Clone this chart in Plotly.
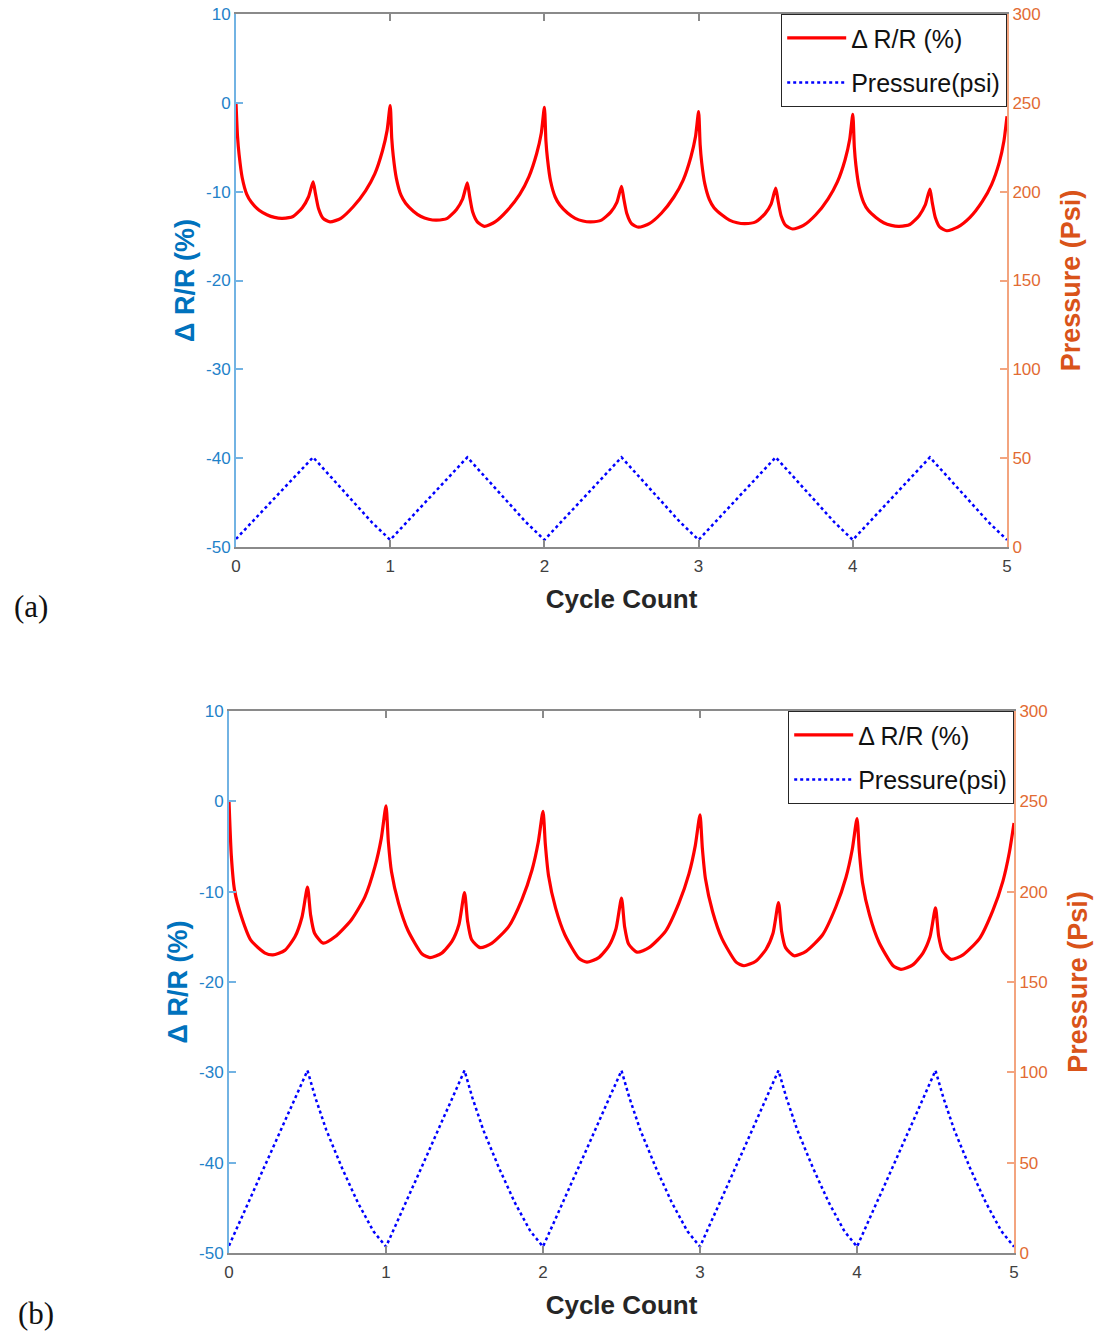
import plotly.graph_objects as go

# ---------------- Panel (a) ----------------
a_dr_x = [
    0.00, 0.01, 0.02, 0.04, 0.07, 0.10, 0.15, 0.20, 0.25, 0.30, 0.37, 0.43, 0.47, 0.50, 0.515, 0.535, 0.565, 0.61, 0.68, 0.76, 0.84, 0.90, 0.95, 0.98,
    1.00, 1.01, 1.02, 1.04, 1.07, 1.10, 1.15, 1.20, 1.25, 1.30, 1.37, 1.43, 1.47, 1.50, 1.515, 1.535, 1.565, 1.61, 1.68, 1.76, 1.84, 1.90, 1.95, 1.98,
    2.00, 2.01, 2.02, 2.04, 2.07, 2.10, 2.15, 2.20, 2.25, 2.30, 2.37, 2.43, 2.47, 2.50, 2.515, 2.535, 2.565, 2.61, 2.68, 2.76, 2.84, 2.90, 2.95, 2.98,
    3.00, 3.01, 3.02, 3.04, 3.07, 3.10, 3.15, 3.20, 3.25, 3.30, 3.37, 3.43, 3.47, 3.50, 3.515, 3.535, 3.565, 3.61, 3.68, 3.76, 3.84, 3.90, 3.95, 3.98,
    4.00, 4.01, 4.02, 4.04, 4.07, 4.10, 4.15, 4.20, 4.25, 4.30, 4.37, 4.43, 4.47, 4.50, 4.515, 4.535, 4.565, 4.61, 4.68, 4.76, 4.84, 4.90, 4.95, 4.98,
    5.00,
]
a_dr_y = [
    0.0, -3.8, -5.8, -8.4, -10.3, -11.2, -12.1, -12.6, -12.9, -13.0, -12.8, -11.8, -10.6, -8.9, -10.2, -11.9, -13.0, -13.4, -13.0, -11.7, -9.9, -8.0, -5.4, -3.1,
    -0.3, -4.0, -6.0, -8.5, -10.4, -11.3, -12.2, -12.8, -13.1, -13.2, -13.0, -12.0, -10.8, -9.0, -10.5, -12.3, -13.4, -13.9, -13.4, -12.1, -10.3, -8.3, -5.7, -3.4,
    -0.5, -4.3, -6.3, -8.8, -10.6, -11.5, -12.4, -13.0, -13.3, -13.4, -13.2, -12.3, -11.2, -9.4, -10.8, -12.5, -13.6, -14.0, -13.6, -12.4, -10.6, -8.7, -6.1, -3.8,
    -1.0, -4.7, -6.7, -9.1, -10.9, -11.8, -12.6, -13.2, -13.5, -13.6, -13.4, -12.5, -11.4, -9.6, -11.0, -12.7, -13.8, -14.2, -13.8, -12.6, -10.8, -8.9, -6.4, -4.1,
    -1.3, -5.0, -7.0, -9.4, -11.2, -12.1, -12.9, -13.5, -13.8, -13.9, -13.7, -12.7, -11.5, -9.7, -11.2, -12.9, -14.0, -14.4, -14.0, -12.9, -11.1, -9.2, -6.7, -4.3,
    -1.5,
]
a_p_x = [
    0.00, 0.25, 0.50, 0.62, 0.75, 0.88,
    1.00, 1.25, 1.50, 1.62, 1.75, 1.88,
    2.00, 2.25, 2.50, 2.62, 2.75, 2.88,
    3.00, 3.25, 3.50, 3.62, 3.75, 3.88,
    4.00, 4.25, 4.50, 4.62, 4.75, 4.88,
    5.00,
]
a_p_y = [
    4.5, 27.5, 50.5, 39.0, 26.5, 14.0,
    4.0, 27.5, 50.5, 39.0, 26.5, 14.0,
    4.0, 27.5, 50.5, 39.0, 26.5, 14.0,
    4.0, 27.5, 50.5, 39.0, 26.5, 14.0,
    4.0, 27.5, 50.5, 39.0, 26.5, 14.0,
    4.0,
]

# ---------------- Panel (b) ----------------
b_dr_x = [
    0.00, 0.015, 0.035, 0.08, 0.14, 0.23, 0.28, 0.355, 0.42, 0.465, 0.50, 0.52, 0.545, 0.60, 0.675, 0.78, 0.865, 0.93, 0.97,
    1.00, 1.015, 1.035, 1.08, 1.14, 1.23, 1.28, 1.355, 1.42, 1.465, 1.50, 1.52, 1.545, 1.60, 1.675, 1.78, 1.865, 1.93, 1.97,
    2.00, 2.015, 2.035, 2.08, 2.14, 2.23, 2.28, 2.355, 2.42, 2.465, 2.50, 2.52, 2.545, 2.60, 2.675, 2.78, 2.865, 2.93, 2.97,
    3.00, 3.015, 3.035, 3.08, 3.14, 3.23, 3.28, 3.355, 3.42, 3.465, 3.50, 3.52, 3.545, 3.60, 3.675, 3.78, 3.865, 3.93, 3.97,
    4.00, 4.015, 4.035, 4.08, 4.14, 4.23, 4.28, 4.355, 4.42, 4.465, 4.50, 4.52, 4.545, 4.60, 4.675, 4.78, 4.865, 4.93, 4.97,
    5.00,
]
b_dr_y = [
    0.0, -6.1, -9.8, -12.8, -15.4, -16.8, -17.0, -16.5, -15.0, -12.8, -9.5, -12.6, -14.6, -15.7, -15.0, -13.1, -10.6, -7.2, -4.1,
    -0.5, -4.5, -7.8, -11.3, -14.3, -16.9, -17.3, -16.8, -15.5, -13.6, -10.1, -13.3, -15.3, -16.2, -15.7, -13.9, -10.9, -7.6, -4.5,
    -1.1, -4.8, -8.2, -11.8, -14.8, -17.4, -17.8, -17.3, -16.0, -14.1, -10.7, -13.9, -15.8, -16.7, -16.2, -14.4, -11.3, -8.0, -4.9,
    -1.5, -5.2, -8.6, -12.2, -15.2, -17.8, -18.2, -17.7, -16.4, -14.6, -11.2, -14.4, -16.2, -17.1, -16.6, -14.8, -11.7, -8.4, -5.3,
    -1.9, -5.6, -9.0, -12.6, -15.6, -18.2, -18.6, -18.1, -16.8, -15.0, -11.8, -14.9, -16.6, -17.5, -17.0, -15.2, -12.1, -8.8, -5.7,
    -2.4,
]
b_p_x = [
    0.00, 0.25, 0.50, 0.55, 0.62, 0.72, 0.82, 0.92,
    1.00, 1.25, 1.50, 1.55, 1.62, 1.72, 1.82, 1.92,
    2.00, 2.25, 2.50, 2.55, 2.62, 2.72, 2.82, 2.92,
    3.00, 3.25, 3.50, 3.55, 3.62, 3.72, 3.82, 3.92,
    4.00, 4.25, 4.50, 4.55, 4.62, 4.72, 4.82, 4.92,
    5.00,
]
b_p_y = [
    4.0, 52.0, 101.0, 86.0, 68.0, 47.0, 28.0, 12.0,
    3.5, 52.0, 101.0, 86.0, 68.0, 47.0, 28.0, 12.0,
    3.5, 52.0, 101.0, 86.0, 68.0, 47.0, 28.0, 12.0,
    3.5, 52.0, 101.0, 86.0, 68.0, 47.0, 28.0, 12.0,
    3.5, 52.0, 101.0, 86.0, 68.0, 47.0, 28.0, 12.0,
    3.5,
]

x_ticks = [0, 1, 2, 3, 4, 5]
x_ticktext = ["0", "1", "2", "3", "4", "5"]
left_ticks = [-50, -40, -30, -20, -10, 0, 10]
left_ticktext = ["-50", "-40", "-30", "-20", "-10", "0", "10"]
right_ticks = [0, 50, 100, 150, 200, 250, 300]
right_ticktext = ["0", "50", "100", "150", "200", "250", "300"]

W, H = 1098, 1333
FONT = "Liberation Sans, Arial, Helvetica, sans-serif"
BLUE_TXT = "#1f82c9"
BLUE_LINE = "#72b3e3"
BLUE_TITLE = "#0072BD"
ORG_TXT = "#e26b33"
ORG_LINE = "#f3a47f"
ORG_TITLE = "#D95319"
GRAY_LINE = "#8a8a8a"
GRAY_TXT = "#404040"

def px_x(p):
    return p / W

def px_y(p):
    return 1 - p / H

fig = go.Figure()

red_line = dict(color="#ff0000", width=3.2, shape="spline", smoothing=0.6)
blue_line = dict(color="#0000ff", width=2.5, dash="dot")

fig.add_trace(go.Scatter(x=a_dr_x, y=a_dr_y, mode="lines", name="\u0394 R/R (%)",
                         line=red_line, xaxis="x", yaxis="y",
                         legend="legend", legendgroup="a1"))
fig.add_trace(go.Scatter(x=a_p_x, y=a_p_y, mode="lines", name="Pressure(psi)",
                         line=blue_line, xaxis="x", yaxis="y2",
                         legend="legend", legendgroup="a2"))
fig.add_trace(go.Scatter(x=b_dr_x, y=b_dr_y, mode="lines", name="\u0394 R/R (%)",
                         line=red_line, xaxis="x2", yaxis="y3",
                         legend="legend2", legendgroup="b1"))
fig.add_trace(go.Scatter(x=b_p_x, y=b_p_y, mode="lines", name="Pressure(psi)",
                         line=blue_line, xaxis="x2", yaxis="y4",
                         legend="legend2", legendgroup="b2"))

def xaxis_cfg(dom, anchor):
    return dict(domain=dom, anchor=anchor, range=[0, 5], tickvals=x_ticks, ticktext=x_ticktext,
                showline=True, linecolor=GRAY_LINE, linewidth=1.5, mirror="ticks",
                ticks="inside", ticklen=7, tickcolor=GRAY_LINE, tickwidth=1.5,
                showgrid=False, zeroline=False, automargin=False, ticklabelstandoff=3,
                tickfont=dict(family=FONT, size=17, color=GRAY_TXT),
                title=dict(text="<b>Cycle Count</b>", standoff=15,
                           font=dict(family=FONT, size=26, color="#262626")))

def left_cfg(dom, anchor):
    return dict(domain=dom, anchor=anchor, range=[-50, 10], tickvals=left_ticks, ticktext=left_ticktext,
                showline=True, linecolor=BLUE_LINE, linewidth=2,
                ticks="inside", ticklen=7, tickcolor=BLUE_LINE, tickwidth=1.5,
                showgrid=False, zeroline=False, automargin=False,
                tickfont=dict(family=FONT, size=17, color=BLUE_TXT),
                title=dict(text="<b>\u0394 R/R (%)</b>", standoff=4,
                           font=dict(family=FONT, size=27, color=BLUE_TITLE)))

def right_cfg(overlay, anchor):
    return dict(overlaying=overlay, anchor=anchor, side="right", range=[0, 300], tickvals=right_ticks,
                ticktext=right_ticktext,
                showline=True, linecolor=ORG_LINE, linewidth=2,
                ticks="inside", ticklen=7, tickcolor=ORG_LINE, tickwidth=1.5,
                showgrid=False, zeroline=False, automargin=False,
                tickfont=dict(family=FONT, size=17, color=ORG_TXT),
                title=dict(text="<b>Pressure (Psi)</b>", standoff=21,
                           font=dict(family=FONT, size=27, color=ORG_TITLE)))

legend_common = dict(bgcolor="white", bordercolor="#262626", borderwidth=1.2,
                     font=dict(family=FONT, size=25, color="#111111"),
                     xanchor="right", yanchor="top", itemwidth=59,
                     tracegroupgap=9, traceorder="grouped",
                     xref="paper", yref="paper")

fig.update_layout(
    width=W, height=H,
    margin=dict(l=0, r=0, t=0, b=0),
    paper_bgcolor="white", plot_bgcolor="white",
    showlegend=True,
    xaxis=xaxis_cfg([px_x(236), px_x(1007)], "y"),
    yaxis=left_cfg([px_y(547), px_y(14)], "x"),
    yaxis2=right_cfg("y", "x"),
    xaxis2=xaxis_cfg([px_x(229), px_x(1014)], "y3"),
    yaxis3=left_cfg([px_y(1253), px_y(711)], "x2"),
    yaxis4=right_cfg("y3", "x2"),
    legend=dict(x=px_x(1007), y=px_y(14), **legend_common),
    legend2=dict(x=px_x(1014), y=px_y(711), **legend_common),
    annotations=[
        dict(text="(a)", x=px_x(12), y=px_y(606), xref="paper", yref="paper",
             xanchor="left", yanchor="middle", showarrow=False,
             font=dict(family="Liberation Serif, Times New Roman, serif", size=31, color="#111111")),
        dict(text="(b)", x=px_x(16), y=px_y(1313), xref="paper", yref="paper",
             xanchor="left", yanchor="middle", showarrow=False,
             font=dict(family="Liberation Serif, Times New Roman, serif", size=31, color="#111111")),
    ],
)

fig.write_html("out.html")
